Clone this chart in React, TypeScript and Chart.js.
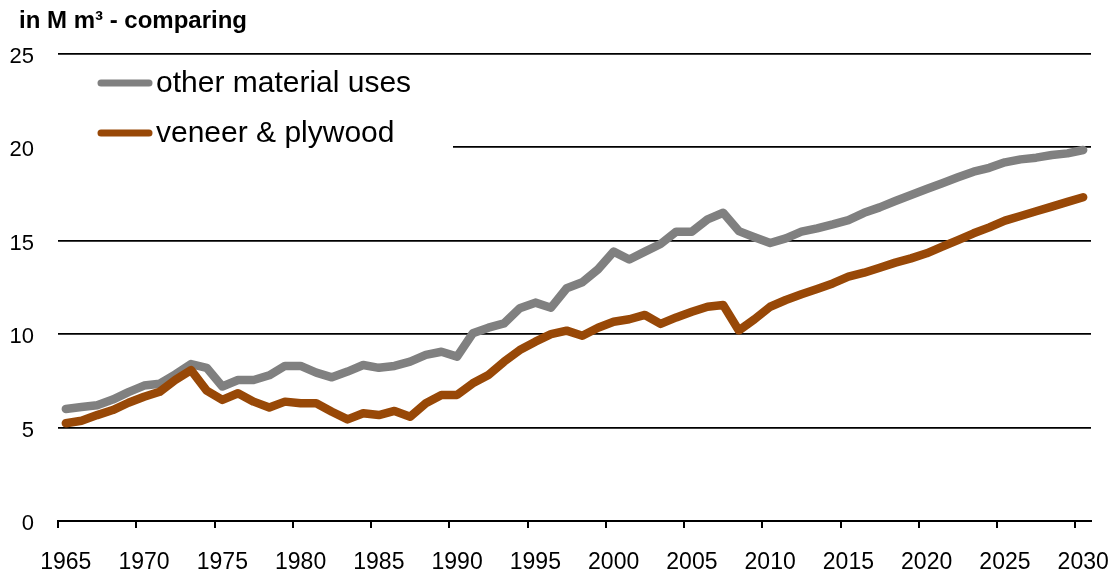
import React, { useEffect, useRef } from 'react';
import { Chart, registerables } from 'chart.js';

Chart.register(...registerables);

const FONT = '"Liberation Sans", Arial, Helvetica, sans-serif';

const TITLE = 'in M m³ - comparing';

const years = [
  '1965', '1966', '1967', '1968', '1969', '1970', '1971', '1972', '1973', '1974',
  '1975', '1976', '1977', '1978', '1979', '1980', '1981', '1982', '1983', '1984',
  '1985', '1986', '1987', '1988', '1989', '1990', '1991', '1992', '1993', '1994',
  '1995', '1996', '1997', '1998', '1999', '2000', '2001', '2002', '2003', '2004',
  '2005', '2006', '2007', '2008', '2009', '2010', '2011', '2012', '2013', '2014',
  '2015', '2016', '2017', '2018', '2019', '2020', '2021', '2022', '2023', '2024',
  '2025', '2026', '2027', '2028', '2029', '2030',
];

const otherMaterialUses = [
  6.0, 6.1, 6.2, 6.5, 6.9, 7.25, 7.35, 7.85, 8.4, 8.2,
  7.2, 7.55, 7.55, 7.8, 8.3, 8.3, 7.94, 7.69, 8.0, 8.35,
  8.2, 8.3, 8.53, 8.89, 9.06, 8.8, 10.05, 10.35, 10.58, 11.39,
  11.69, 11.42, 12.46, 12.78, 13.47, 14.42, 14.0, 14.42, 14.83, 15.49,
  15.49, 16.15, 16.5, 15.52, 15.19, 14.88, 15.13, 15.49, 15.67, 15.88,
  16.11, 16.5, 16.79, 17.13, 17.45, 17.77, 18.08, 18.4, 18.7, 18.91,
  19.2, 19.36, 19.45, 19.59, 19.68, 19.86,
];

const veneerPlywood = [
  5.23, 5.37, 5.67, 5.94, 6.33, 6.65, 6.92, 7.55, 8.08, 6.98,
  6.48, 6.84, 6.39, 6.08, 6.39, 6.3, 6.3, 5.85, 5.44, 5.77,
  5.67, 5.89, 5.58, 6.3, 6.75, 6.75, 7.37, 7.82, 8.53, 9.15,
  9.6, 10.0, 10.19, 9.92, 10.35, 10.67, 10.8, 11.03, 10.55, 10.9,
  11.2, 11.47, 11.56, 10.2, 10.8, 11.47, 11.83, 12.14, 12.42, 12.72,
  13.08, 13.29, 13.56, 13.83, 14.06, 14.33, 14.69, 15.04, 15.4, 15.72,
  16.08, 16.33, 16.58, 16.83, 17.08, 17.33,
];

const seriesLabels = ['other material uses', 'veneer & plywood'];
const seriesColors = ['#808080', '#984807'];

const yTicks = [0, 5, 10, 15, 20, 25];

const overlayPlugin = {
  id: 'overlay',
  beforeDatasetsDraw(chart: any) {
    const ctx = chart.ctx;
    const area = chart.chartArea;
    ctx.save();
    ctx.fillStyle = '#ffffff';
    ctx.fillRect(area.left, 64, 453 - area.left, 96);
    chart.data.datasets.forEach((ds: any, i: number) => {
      const y = 83 + i * 50;
      ctx.strokeStyle = ds.borderColor;
      ctx.lineWidth = 7;
      ctx.lineCap = 'round';
      ctx.beginPath();
      ctx.moveTo(101, y);
      ctx.lineTo(149, y);
      ctx.stroke();
      ctx.fillStyle = '#000000';
      ctx.font = `30px ${FONT}`;
      ctx.textBaseline = 'middle';
      ctx.textAlign = 'left';
      ctx.fillText(ds.label, 156, y + 1);
    });
    ctx.restore();
  },
  afterDraw(chart: any) {
    const ctx = chart.ctx;
    ctx.save();
    ctx.fillStyle = '#000000';
    ctx.font = `bold 24px ${FONT}`;
    ctx.textBaseline = 'alphabetic';
    ctx.textAlign = 'left';
    ctx.fillText(TITLE, 19, 28);
    ctx.restore();
  },
};

export default function App() {
  const canvasRef = useRef<HTMLCanvasElement | null>(null);

  useEffect(() => {
    const canvas = canvasRef.current;
    if (!canvas) return;
    const chart = new Chart(canvas, {
      type: 'line',
      data: {
        labels: years,
        datasets: [
          {
            label: seriesLabels[0],
            data: otherMaterialUses,
            borderColor: seriesColors[0],
            backgroundColor: seriesColors[0],
            borderWidth: 8.5,
            pointRadius: 0,
            tension: 0,
            borderCapStyle: 'round',
            borderJoinStyle: 'round',
            order: 1,
          },
          {
            label: seriesLabels[1],
            data: veneerPlywood,
            borderColor: seriesColors[1],
            backgroundColor: seriesColors[1],
            borderWidth: 8.5,
            pointRadius: 0,
            tension: 0,
            borderCapStyle: 'round',
            borderJoinStyle: 'round',
            order: 0,
          },
        ],
      },
      options: {
        responsive: false,
        animation: false,
        layout: { padding: { top: 54, right: 26, left: 0, bottom: 0 } },
        plugins: {
          legend: { display: false },
          title: { display: false },
          tooltip: { enabled: false },
        },
        scales: {
          x: {
            type: 'category',
            offset: true,
            border: { display: true, color: '#000000', width: 2 },
            grid: {
              offset: true,
              drawOnChartArea: false,
              drawTicks: true,
              tickLength: 7,
              lineWidth: 2,
              color: (ctx: any) => {
                const lbl = years[ctx.index];
                return lbl !== undefined && Number(lbl) % 5 === 0 ? '#000000' : 'rgba(0,0,0,0)';
              },
            },
            ticks: {
              autoSkip: false,
              maxRotation: 0,
              minRotation: 0,
              padding: 21,
              color: '#000000',
              font: { family: FONT, size: 23 },
              callback: (_v: any, i: number) => (Number(years[i]) % 5 === 0 ? years[i] : ''),
            },
            afterFit: (scale: any) => {
              scale.height = 53;
              scale.paddingLeft = 0;
              scale.paddingRight = 0;
            },
          },
          y: {
            min: 0,
            max: 25,
            border: { display: false },
            grid: {
              drawTicks: false,
              lineWidth: 1.8,
              color: (ctx: any) => (ctx.tick && ctx.tick.value === 0 ? 'rgba(0,0,0,0)' : '#000000'),
            },
            afterBuildTicks: (scale: any) => {
              scale.ticks = yTicks.map((v) => ({ value: v }));
            },
            ticks: {
              padding: 24,
              color: '#000000',
              labelOffset: 3,
              font: { family: FONT, size: 22 },
            },
            afterFit: (scale: any) => {
              scale.width = 58;
              scale.paddingTop = 0;
              scale.paddingBottom = 0;
            },
          },
        },
      },
      plugins: [overlayPlugin],
    } as any);
    return () => {
      chart.destroy();
    };
  }, []);

  return (
    <div style={{ position: 'fixed', left: 0, top: 0, width: 1117, height: 574, background: '#fff' }}>
      <canvas ref={canvasRef} width={1117} height={574} style={{ width: 1117, height: 574, display: 'block' }} />
    </div>
  );
}
